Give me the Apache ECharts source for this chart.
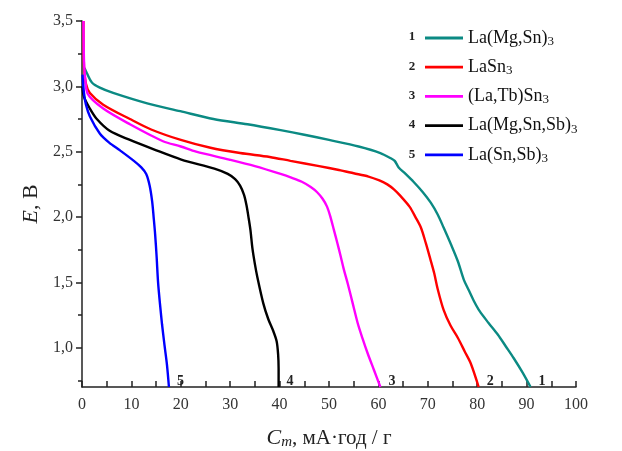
<!DOCTYPE html>
<html>
<head>
<meta charset="utf-8">
<script src="https://cdn.jsdelivr.net/npm/echarts@6/dist/echarts.min.js"></script>
<style>html,body{margin:0;padding:0;background:#fff}#c{width:622px;height:451px}</style>
</head>
<body>
<div id="c"></div>
<script>
// Data (Cm, mA·h/g ; E, V)
const names = ['La(Mg,Sn)3', 'LaSn3', '(La,Tb)Sn3', 'La(Mg,Sn,Sb)3', 'La(Sn,Sb)3'];
const endTags = ['1', '2', '3', '4', '5'];
const colors = ['#0b8a83', '#ff0000', '#ff00ff', '#000000', '#0000ff'];

const curve1 = [[0.5,3.14],[1.0,3.10],[2.0,3.03],[3.6,2.99],[6.3,2.95],[13.2,2.87],[19.9,2.81],[26.6,2.75],[33.5,2.71],[40.2,2.665],[45,2.63],[50,2.59],[56,2.54],[60.4,2.49],[62.5,2.45],[63.3,2.43],[64.1,2.38],[65.5,2.33],[67.1,2.27],[69.0,2.19],[70.6,2.11],[72.0,2.02],[73.2,1.92],[74.7,1.79],[76.1,1.66],[77.3,1.52],[78.3,1.44],[79.3,1.36],[80.5,1.28],[82.3,1.19],[84.2,1.10],[85.8,1.01],[87.4,0.92],[89.2,0.81],[90.8,0.70]];
const curve2 = [[0.3,3.5],[0.4,3.15],[0.8,3.02],[1.6,2.95],[4.3,2.86],[9.7,2.75],[14,2.67],[20,2.59],[26,2.53],[32,2.49],[38,2.46],[42.2,2.43],[48,2.39],[52,2.36],[55,2.335],[58,2.31],[60.2,2.28],[61.8,2.25],[63.2,2.21],[64.5,2.16],[66.3,2.08],[67.5,2.00],[68.6,1.92],[69.6,1.80],[70.5,1.68],[71.3,1.57],[72.0,1.45],[73.2,1.29],[74.6,1.17],[76.1,1.075],[77.5,0.97],[78.7,0.88],[80.3,0.70]];
const curve3 = [[0.3,3.5],[0.4,3.2],[0.6,3.08],[1.2,2.94],[4.3,2.83],[9.7,2.71],[16.4,2.58],[20,2.54],[23.1,2.50],[29.8,2.44],[35,2.39],[40.2,2.33],[42.5,2.30],[44.5,2.27],[46.3,2.23],[47.6,2.19],[48.7,2.14],[49.6,2.08],[50.3,2.00],[51.0,1.90],[51.7,1.80],[52.3,1.71],[53.0,1.60],[53.8,1.49],[54.8,1.34],[55.8,1.19],[56.8,1.07],[57.8,0.96],[59.1,0.83],[60.4,0.70]];
const curve4 = [[0.1,3.0],[0.4,2.92],[1.6,2.83],[3.0,2.75],[5.6,2.66],[9.7,2.59],[14.4,2.52],[20.1,2.44],[26.8,2.37],[29.5,2.33],[31.0,2.29],[32.0,2.24],[32.8,2.17],[33.3,2.09],[33.7,2.00],[34.1,1.90],[34.5,1.76],[35.0,1.64],[35.5,1.54],[36.7,1.34],[37.7,1.22],[38.7,1.13],[39.4,1.05],[39.7,0.95],[39.8,0.84],[39.8,0.70]];
const curve5 = [[0.1,3.09],[0.4,2.95],[0.8,2.86],[1.6,2.77],[3.6,2.64],[5.5,2.57],[7.7,2.51],[10.5,2.43],[12.0,2.38],[13.0,2.33],[13.7,2.24],[14.2,2.12],[14.5,2.00],[14.8,1.87],[15.1,1.70],[15.4,1.50],[15.8,1.33],[16.2,1.18],[16.7,1.02],[17.2,0.87],[17.6,0.70]];
const curves = [curve1, curve2, curve3, curve4, curve5];

const yLabelValues = [1.0, 1.5, 2.0, 2.5, 3.0, 3.5];
const yMinorValues = [0.75, 1.25, 1.75, 2.25, 2.75, 3.25];

const SERIF = '"Liberation Serif","Times New Roman",serif';
const chart = echarts.init(document.getElementById('c'), null, {renderer: 'canvas'});

const legendTop = 23, rowH = 20, rowGap = 9.2;
const numGraphics = endTags.map((t, i) => ({
  type: 'text', x: 412, y: 37 + i * 29.3,
  style: {text: t, font: 'bold 13px ' + SERIF, fill: '#222', align: 'center', verticalAlign: 'middle'}
}));

chart.setOption({
  animation: false,
  backgroundColor: '#fff',
  grid: {left: 82, right: 46, top: 21, bottom: 64, containLabel: false, outerBoundsMode: 'none'},
  xAxis: {
    type: 'value', min: 0, max: 100, interval: 10,
    name: '{i|C}{s|m}{n|, мА·год / г}', nameLocation: 'middle', nameGap: 39,
    nameTextStyle: {rich: {
      i: {fontFamily: SERIF, fontStyle: 'italic', fontSize: 22, color: '#222'},
      s: {fontFamily: SERIF, fontStyle: 'italic', fontSize: 15, color: '#222', padding: [9, 0, 0, 0]},
      n: {fontFamily: SERIF, fontSize: 21, color: '#222'}
    }},
    axisLine: {show: true, onZero: false, lineStyle: {color: '#222', width: 1.5}},
    axisTick: {show: true, inside: true, length: 6, lineStyle: {color: '#222', width: 1.5}},
    minorTick: {show: true, splitNumber: 2, length: 6, lineStyle: {color: '#222', width: 1.5}},
    axisLabel: {fontFamily: SERIF, fontSize: 16, color: '#333', margin: 10},
    splitLine: {show: false}
  },
  yAxis: [{
    type: 'value', min: 0.7, max: 3.5,
    name: '{i|E}{n|, В}', nameLocation: 'middle', nameGap: 40, nameRotate: 90,
    nameTextStyle: {rich: {
      i: {fontFamily: SERIF, fontStyle: 'italic', fontSize: 22, color: '#222'},
      n: {fontFamily: SERIF, fontSize: 22, color: '#222'}
    }},
    axisLine: {show: true, onZero: false, lineStyle: {color: '#222', width: 1.5}},
    axisTick: {show: true, inside: false, length: 6, customValues: yLabelValues, lineStyle: {color: '#222', width: 1.5}},
    axisLabel: {fontFamily: SERIF, fontSize: 16, color: '#333', margin: 9, customValues: yLabelValues,
      formatter: v => v.toFixed(1).replace('.', ',')},
    splitLine: {show: false}
  }, {
    type: 'value', min: 0.7, max: 3.5, position: 'left', offset: 0,
    axisLine: {show: false},
    axisTick: {show: true, inside: false, length: 4, customValues: yMinorValues, lineStyle: {color: '#222', width: 1.5}},
    axisLabel: {show: false},
    splitLine: {show: false}
  }],
  legend: {
    orient: 'vertical', left: 420, top: legendTop, itemWidth: 38, itemHeight: 2.8,
    itemGap: rowGap, icon: 'rect',
    data: names,
    formatter: n => {
      const m = n.match(/^(.*?)(\d)$/);
      return '{t|' + m[1] + '}{s|' + m[2] + '}';
    },
    textStyle: {
      rich: {
        t: {fontFamily: SERIF, fontSize: 18, color: '#111', lineHeight: rowH},
        s: {fontFamily: SERIF, fontSize: 13, color: '#111', padding: [7, 0, 0, 0], lineHeight: rowH}
      }
    }
  },
  graphic: numGraphics,
  series: curves.map((d, i) => ({
    name: names[i], type: 'line', data: d, showSymbol: false, symbol: 'none',
    smooth: 0.3, yAxisIndex: 0,
    color: colors[i],
    lineStyle: {color: colors[i], width: 2.4},
    endLabel: {show: true, formatter: endTags[i], fontFamily: SERIF, fontWeight: 'bold', fontSize: 14,
      color: '#222', offset: [0, -6]}
  }))
});
</script>
</body>
</html>
